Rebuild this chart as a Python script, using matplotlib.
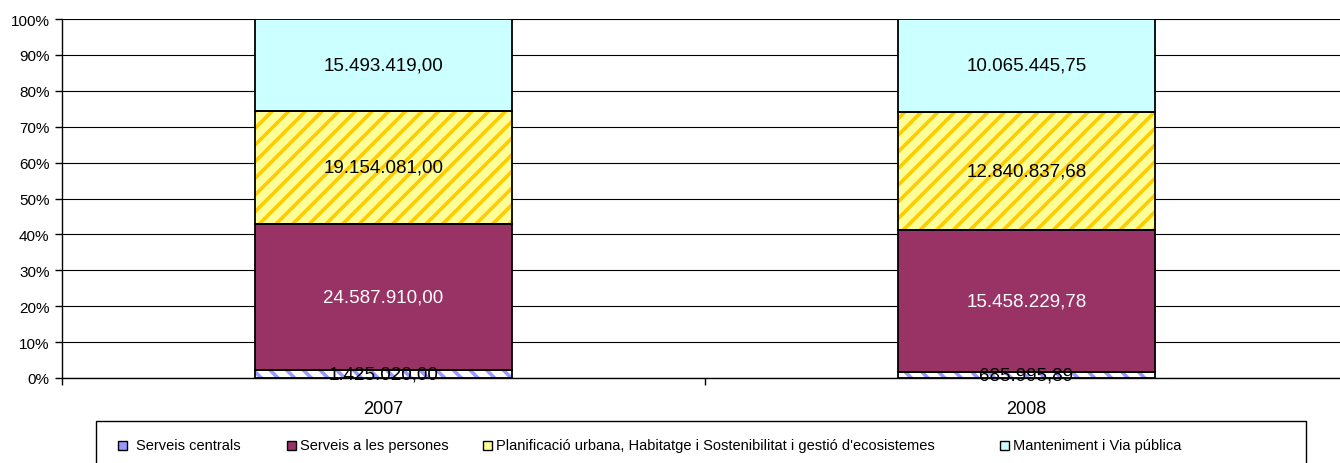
import matplotlib
matplotlib.use("Agg")
import matplotlib.pyplot as plt
from matplotlib.patches import Rectangle
import numpy as np

plt.rcParams["font.family"] = ["Liberation Sans", "DejaVu Sans"]
plt.rcParams["hatch.linewidth"] = 2.6

years = ["2007", "2008"]
series = [
    "Serveis centrals",
    "Serveis a les persones",
    "Planificació urbana, Habitatge i Sostenibilitat i gestió d'ecosistemes",
    "Manteniment i Via pública",
]
serveis_centrals = [1425020.00, 685995.89]
serveis_persones = [24587910.00, 15458229.78]
planificacio = [19154081.00, 12840837.68]
manteniment = [15493419.00, 10065445.75]

values = np.array([serveis_centrals, serveis_persones, planificacio, manteniment])
face = ["white", "#993366", "#FFFF99", "#CCFFFF"]
hatch_col = ["#9999FF", "#993366", "#FFCC00", "#CCFFFF"]
hatches = ["\\\\", None, "//", None]
legend_col = ["#9999FF", "#993366", "#FFFF99", "#CCFFFF"]
text_col = ["black", "white", "black", "black"]

W, H = 1340, 464


def fmt(v):
    s = f"{v:,.2f}"
    return s.replace(",", "X").replace(".", ",").replace("X", ".")


fig = plt.figure(figsize=(W / 100, H / 100), dpi=100)
ax = fig.add_axes([62 / W, 85 / H, 1286 / W, 359 / H])

x = np.arange(len(years))
width = 0.40
share = values / values.sum(axis=0) * 100
bottom = np.zeros(len(years))
for i in range(len(series)):
    ax.bar(x, share[i], width, bottom=bottom, color=face[i], edgecolor=hatch_col[i],
           hatch=hatches[i], linewidth=0, zorder=2)
    ax.bar(x, share[i], width, bottom=bottom, facecolor="none", edgecolor="black",
           linewidth=1.3, zorder=3)
    for xi, b, h, v in zip(x, bottom, share[i], values[i]):
        ax.text(xi, b + h / 2, fmt(v), ha="center", va="center", fontsize=13.5,
                color=text_col[i], zorder=4)
    bottom += share[i]

ax.set_xlim(-0.5, 1.5)
ax.set_ylim(0, 100)
ax.set_yticks(np.arange(0, 101, 10))
ax.set_yticklabels([f"{t}%" for t in range(0, 101, 10)], fontsize=11)
ax.set_xticks(x)
ax.set_xticklabels(years, fontsize=13)
ax.set_xticks([-0.5, 0.5, 1.5], minor=True)
ax.tick_params(axis="x", which="major", length=0, pad=16)
ax.tick_params(axis="x", which="minor", length=5, width=1, direction="out")
ax.tick_params(axis="y", length=5, width=1, direction="out", pad=4)
ax.yaxis.grid(True, color="black", linewidth=0.8, zorder=0)
ax.set_axisbelow(True)
for s in ["top", "right"]:
    ax.spines[s].set_visible(False)
for s in ["left", "bottom"]:
    ax.spines[s].set_linewidth(1)

# legend, laid out by hand like the Excel one (box runs off the bottom edge)
fig.patches.append(Rectangle((96 / W, -0.05), 1210 / W, 0.05 + 42 / H,
                             transform=fig.transFigure, fill=False,
                             edgecolor="black", linewidth=1))
marker_x = [118, 287, 483, 1000]
text_x = [136, 300, 496, 1013]
yc = 1 - 446 / H
for name, col, mx, tx in zip(series, legend_col, marker_x, text_x):
    fig.patches.append(Rectangle((mx / W, yc - 4.5 / H), 9 / W, 9 / H,
                                 transform=fig.transFigure, facecolor=col,
                                 edgecolor="black", linewidth=1))
    fig.text(tx / W, yc, name, ha="left", va="center", fontsize=10.5)

fig.savefig("out.png", dpi=100)
